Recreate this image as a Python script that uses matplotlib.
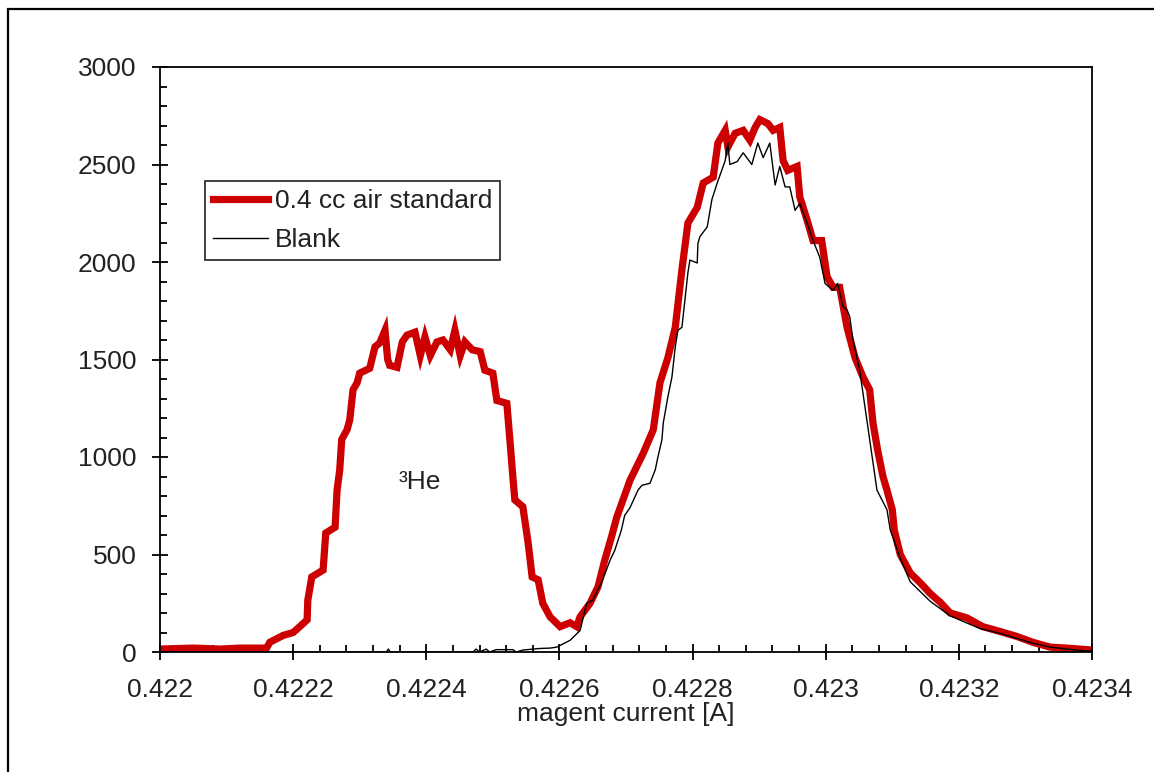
import numpy as np
import matplotlib
matplotlib.use("Agg")
import matplotlib.pyplot as plt
from matplotlib.patches import Rectangle
from matplotlib.ticker import MultipleLocator, AutoMinorLocator

plt.rcParams['font.family'] = ['Liberation Sans', 'DejaVu Sans']

# 0.4 cc air standard (magnet current [A], counts)
std_x = [0.42200, 0.42205, 0.42209, 0.42212, 0.42216, 0.422165, 0.422185, 0.4222,
         0.42221, 0.422221, 0.422222, 0.422228, 0.422245, 0.422249, 0.422263, 0.422266,
         0.42227, 0.422273, 0.422281, 0.422285, 0.42229, 0.422296, 0.4223, 0.422315,
         0.422323, 0.42233, 0.422338, 0.422342, 0.422345, 0.422356, 0.422364, 0.422371,
         0.422383, 0.422391, 0.422398, 0.422406, 0.422416, 0.422425, 0.422436, 0.422443,
         0.422451, 0.422458, 0.422469, 0.422481, 0.422488, 0.4225, 0.422506, 0.422521,
         0.422526, 0.42253, 0.422533, 0.422545, 0.422553, 0.422559, 0.422568, 0.422575,
         0.422586, 0.422601, 0.422616, 0.422626, 0.422631, 0.422646, 0.422658, 0.422668,
         0.422679, 0.422686, 0.422706, 0.422726, 0.422741, 0.422751, 0.422763, 0.422774,
         0.422784, 0.422793, 0.422807, 0.422816, 0.422831, 0.422838, 0.422849, 0.422853,
         0.422864, 0.422876, 0.422886, 0.422894, 0.422901, 0.422913, 0.422921, 0.422931,
         0.422936, 0.422943, 0.422957, 0.422961, 0.422972, 0.422981, 0.422994, 0.423002,
         0.423011, 0.423021, 0.423032, 0.423044, 0.423056, 0.423066, 0.423071, 0.423078,
         0.423086, 0.423092, 0.4231, 0.423103, 0.423112, 0.423127, 0.423142, 0.423157,
         0.423172, 0.423187, 0.423212, 0.423236, 0.423262, 0.423287, 0.423311, 0.423337,
         0.423362, 0.4234]
std_y = [15, 20, 15, 20, 20, 50, 85, 100,
         130, 165, 265, 385, 420, 610, 640, 830,
         935, 1090, 1140, 1190, 1345, 1380, 1430, 1455,
         1565, 1585, 1650, 1500, 1470, 1460, 1590, 1625,
         1640, 1520, 1615, 1520, 1590, 1600, 1550, 1650,
         1520, 1590, 1550, 1540, 1445, 1430, 1290, 1275,
         1070, 900, 780, 745, 560, 385, 370, 250,
         180, 130, 150, 130, 180, 250, 335, 470,
         600, 690, 880, 1020, 1140, 1380, 1510, 1665,
         1960, 2200, 2280, 2405, 2435, 2610, 2675, 2590,
         2660, 2675, 2625, 2690, 2730, 2710, 2675, 2690,
         2520, 2470, 2490, 2335, 2215, 2110, 2110, 1925,
         1870, 1870, 1665, 1510, 1410, 1345, 1175, 1035,
         900, 830, 730, 625, 500, 405, 355, 300,
         255, 200, 175, 130, 105, 80, 50, 25,
         20, 10]

# Blank
blank_x = [0.42200, 0.42234, 0.422343, 0.422346, 0.42247, 0.422475, 0.42248, 0.42249,
           0.422495, 0.422505, 0.42251, 0.42253, 0.422535, 0.422545, 0.42257, 0.422586,
           0.422596, 0.422616, 0.422631, 0.422641, 0.42265, 0.422665, 0.422676, 0.422683,
           0.422693, 0.422698, 0.422706, 0.422718, 0.422724, 0.422736, 0.422744, 0.422747,
           0.422754, 0.422756, 0.422763, 0.422769, 0.422774, 0.422778, 0.422784, 0.422789,
           0.422793, 0.422796, 0.422807, 0.422808, 0.422811, 0.422822, 0.422829, 0.422837,
           0.422849, 0.422853, 0.422856, 0.422867, 0.422876, 0.422889, 0.422898, 0.422906,
           0.422916, 0.422924, 0.422931, 0.422939, 0.422946, 0.422954, 0.422961, 0.422972,
           0.422981, 0.422991, 0.422999, 0.423011, 0.423018, 0.423026, 0.423032, 0.423036,
           0.423041, 0.423051, 0.423066, 0.423077, 0.423092, 0.423097, 0.423112, 0.423127,
           0.423157, 0.423187, 0.423232, 0.423262, 0.423311, 0.423337, 0.423382, 0.4234]
blank_y = [0, 0, 15, 0, 0, 15, 0, 15,
           0, 12, 12, 12, 0, 10, 18, 20,
           25, 60, 110, 250, 265, 370, 470, 520,
           625, 700, 740, 830, 855, 865, 935, 985,
           1090, 1175, 1310, 1410, 1565, 1650, 1665, 1820,
           1945, 2010, 1995, 2095, 2130, 2180, 2320, 2405,
           2520, 2610, 2500, 2515, 2560, 2500, 2610, 2535,
           2610, 2395, 2490, 2385, 2385, 2265, 2300, 2200,
           2110, 2025, 1890, 1855, 1890, 1770, 1755, 1720,
           1600, 1445, 1090, 830, 730, 625, 480, 360,
           260, 185, 120, 95, 45, 25, 8, 5]

fs = 19
fig = plt.figure(figsize=(11.54, 7.72), dpi=100)
fig.patch.set_facecolor('white')
ax = fig.add_axes([160 / 1154, 1 - 652 / 772, 932 / 1154, 585 / 772])

# outer frame (only top and left edges visible in the original crop)
fig.patches.append(Rectangle((8 / 1154, -0.2), 1.5, 1.2 - 9 / 772,
                             transform=fig.transFigure, fill=False,
                             edgecolor='black', linewidth=1.6))

ax.plot(std_x, std_y, color='#cc0000', lw=5.2, solid_joinstyle='miter',
        label='0.4 cc air standard', zorder=2)
ax.plot(blank_x, blank_y, color='black', lw=1.0, label='Blank', zorder=3)

ax.set_xlim(0.422, 0.4234)
ax.set_ylim(0, 3000)
ax.set_xticks([0.422 + 0.0002 * i for i in range(8)])
ax.set_xticklabels(['0.422', '0.4222', '0.4224', '0.4226', '0.4228', '0.423',
                    '0.4232', '0.4234'])
ax.xaxis.set_minor_locator(AutoMinorLocator(5))
ax.yaxis.set_major_locator(MultipleLocator(500))
ax.yaxis.set_minor_locator(AutoMinorLocator(5))

ax.tick_params(which='major', direction='inout', length=12, width=1.3,
               labelsize=fs, colors='black')
ax.tick_params(axis='x', which='major', pad=13)
ax.tick_params(axis='y', which='major', pad=11)
ax.tick_params(which='minor', direction='in', length=5, width=1.3)
for s in ax.spines.values():
    s.set_linewidth(1.3)
for t in ax.get_xticklabels() + ax.get_yticklabels():
    t.set_color('#222222')

ax.set_xlabel('magent current [A]', fontsize=fs, color='#222222', labelpad=0)

ax.text(0.422391, 870, '³He', fontsize=fs, ha='center', va='center', color='#222222')

leg = ax.legend(loc='upper left', bbox_to_anchor=(45 / 932, 1 - 114 / 585),
                fontsize=fs, frameon=True, fancybox=False, edgecolor='black',
                borderpad=0.3, labelspacing=0.58, handlelength=2.1,
                handletextpad=0.25, borderaxespad=0)
leg.get_frame().set_linewidth(1.3)
for t in leg.get_texts():
    t.set_color('#222222')

fig.savefig('out.png', dpi=100, facecolor='white')
